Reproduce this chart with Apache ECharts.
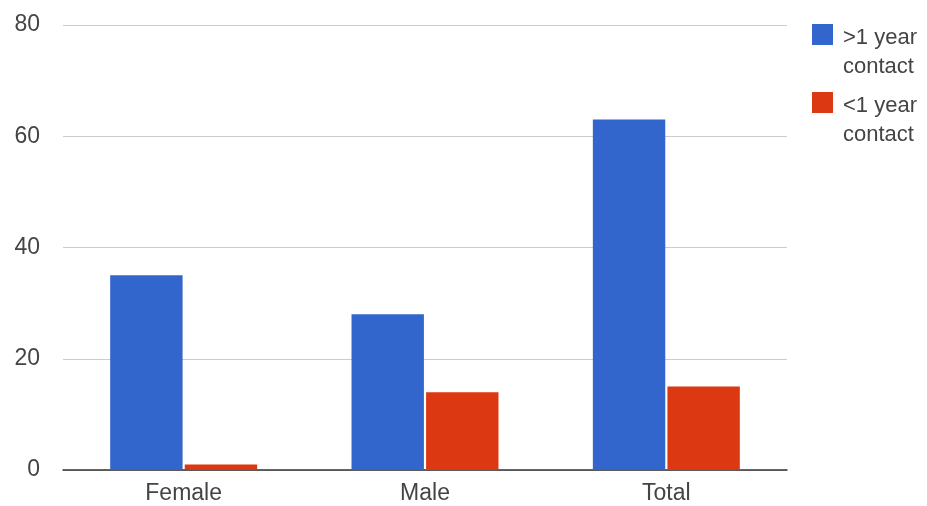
<!DOCTYPE html>
<html>
<head>
<meta charset="utf-8">
<script src="https://cdn.jsdelivr.net/npm/echarts@6/dist/echarts.min.js"></script>
<style>
  html, body { margin: 0; padding: 0; background: #fff; }
  #myChart { width: 927px; height: 506px; }
</style>
</head>
<body>
<div id="myChart"></div>
<script>
// data
const categories = ["Female", "Male", "Total"];
const overOneYear = [35, 28, 63];
const underOneYear = [1, 14, 15];
const seriesNames = [">1 year\ncontact", "<1 year\ncontact"];

let myChart = echarts.init(document.getElementById("myChart"));

// square sits at the top of a taller icon box so it lines up with the first text line
const legendIcon = "path://M0,0H21V21H0Z M0,55.99H0.01V56H0Z";

let option = {
  animation: false,
  textStyle: { fontFamily: "Liberation Sans, Arial, sans-serif" },
  grid: { left: 63, right: 140, top: 25, bottom: 36 },
  legend: {
    orient: "vertical",
    left: 807,
    top: 18,
    itemWidth: 21,
    itemHeight: 56,
    itemGap: 10,
    icon: legendIcon,
    data: seriesNames,
    textStyle: { fontSize: 22, color: "#444", lineHeight: 29, padding: [0, 0, 0, 5] },
  },
  xAxis: {
    type: "category",
    data: categories,
    axisTick: { show: false },
    axisLine: { lineStyle: { color: "#333", width: 1.5 } },
    axisLabel: { fontSize: 23, color: "#444", margin: 12 },
  },
  yAxis: {
    type: "value",
    min: 0,
    max: 80,
    interval: 20,
    axisLine: { show: false },
    axisTick: { show: false },
    axisLabel: { fontSize: 23, color: "#444", margin: 23 },
    splitLine: { lineStyle: { color: "#cccccc" } },
  },
  series: [
    {
      name: seriesNames[0],
      type: "bar",
      data: overOneYear,
      barWidth: "30%",
      barGap: "3%",
      itemStyle: { color: "#3366cc" },
    },
    {
      name: seriesNames[1],
      type: "bar",
      data: underOneYear,
      barWidth: "30%",
      itemStyle: { color: "#dc3912" },
    },
  ],
};

myChart.setOption(option);
</script>
</body>
</html>
